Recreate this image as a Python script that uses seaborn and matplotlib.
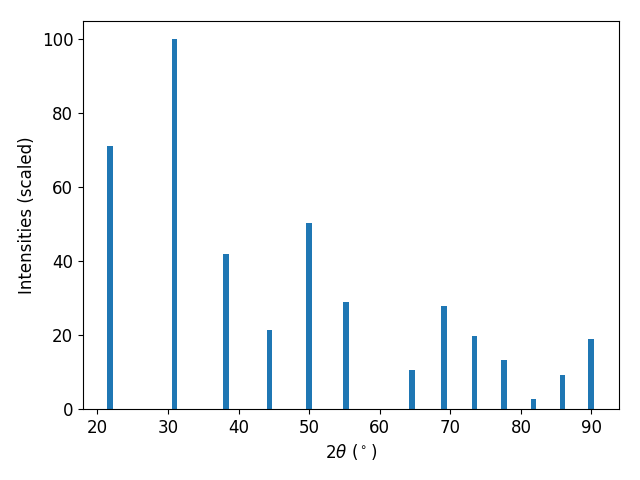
import matplotlib
matplotlib.use("Agg")
import matplotlib.pyplot as plt
import seaborn as sns
import numpy as np
import pandas as pd

two_theta = [21.8, 30.9, 38.2, 44.4, 50.0, 55.2, 64.6, 69.1, 73.4, 77.6, 81.8, 85.9, 89.9]
intensity = [71.2, 100.0, 42.0, 21.3, 50.4, 29.0, 10.6, 27.9, 19.8, 13.3, 2.7, 9.2, 19.0]

df = pd.DataFrame({"two_theta": two_theta, "intensity": intensity})

fig, ax = plt.subplots(figsize=(6.4, 4.8), dpi=100)
min_gap = np.min(np.diff(np.sort(two_theta)))
sns.barplot(data=df, x="two_theta", y="intensity", native_scale=True,
            width=0.8 / min_gap, color="#1f77b4", saturation=1,
            linewidth=0, ax=ax)
ax.set_xlabel(r"2$\theta$ ($^\circ$)", fontsize=12)
ax.set_ylabel("Intensities (scaled)", fontsize=12)
ax.tick_params(labelsize=12)
ax.set_xticks([20, 30, 40, 50, 60, 70, 80, 90])
ax.set_yticks([0, 20, 40, 60, 80, 100])
ax.set_xlim(17.95, 93.9)
ax.set_ylim(0, 105)
fig.subplots_adjust(left=83/640, right=619/640, top=1-21/480, bottom=1-409/480)
fig.savefig("out.png", dpi=100)
